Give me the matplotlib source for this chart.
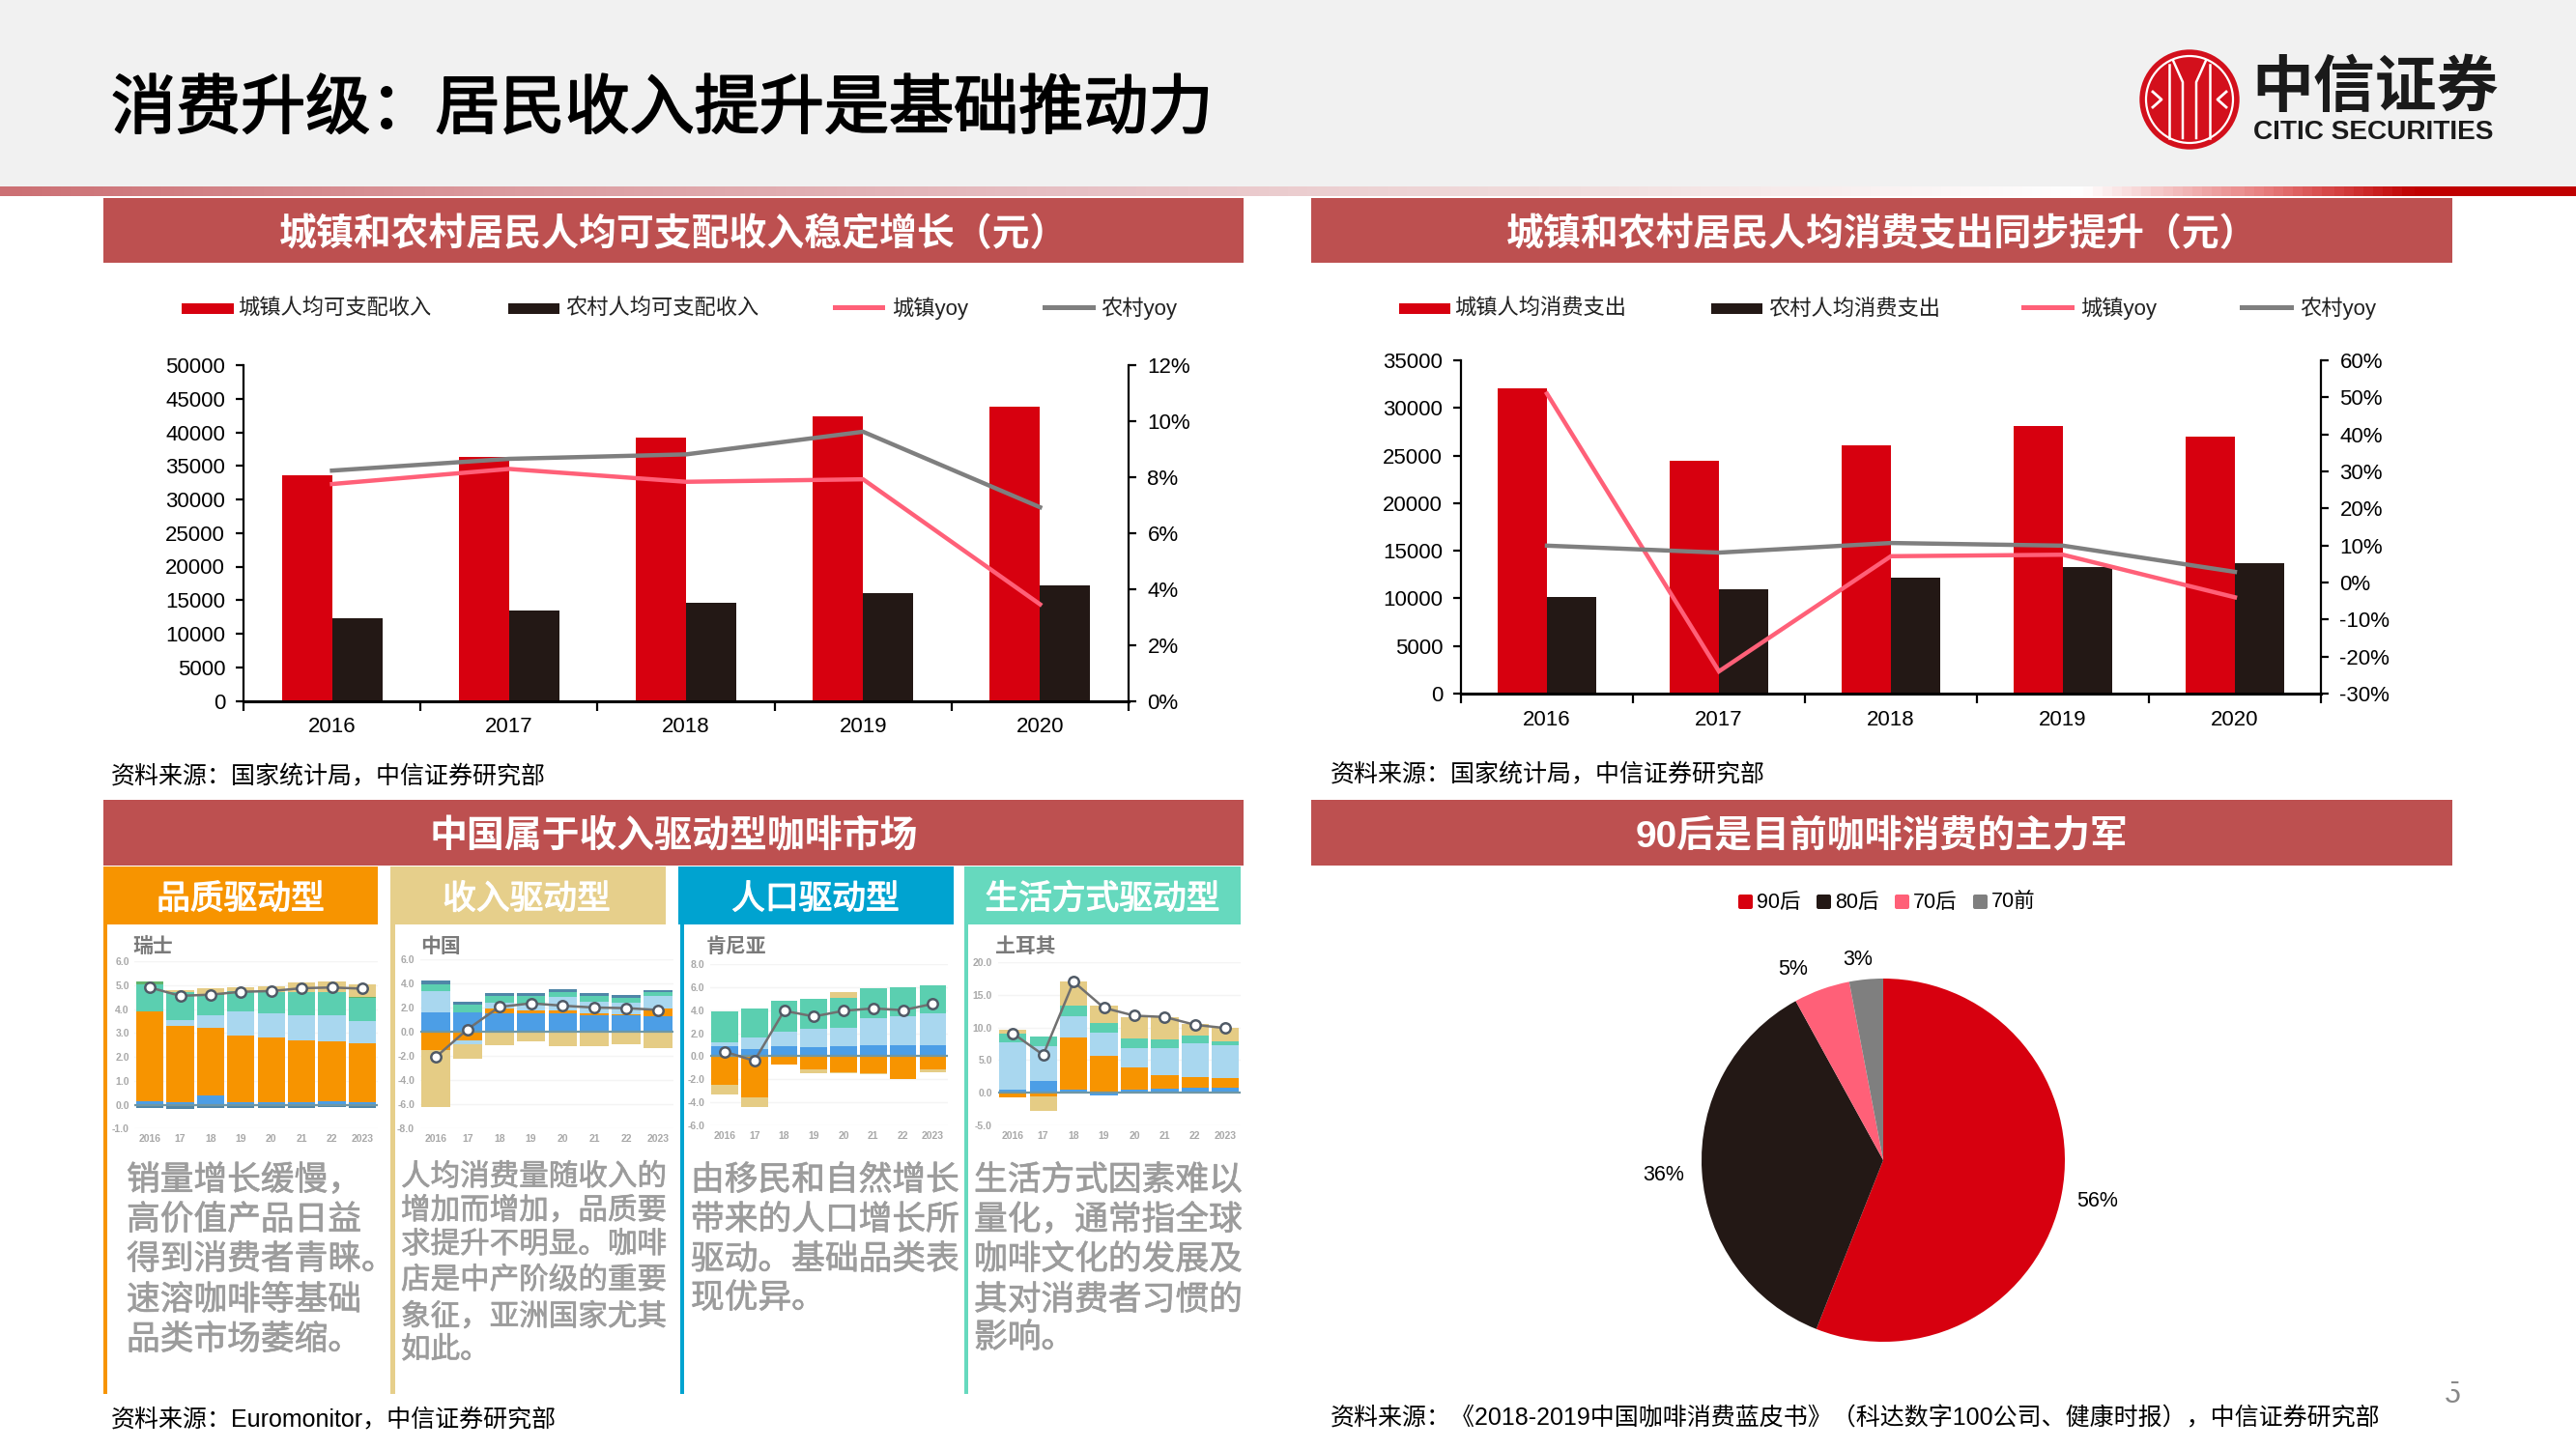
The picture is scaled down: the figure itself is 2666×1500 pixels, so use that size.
import numpy as np
import matplotlib
matplotlib.use('Agg')
import matplotlib.pyplot as plt
import matplotlib.patheffects as pe
from matplotlib.colors import LinearSegmentedColormap
from matplotlib.patches import Rectangle, Circle, FancyBboxPatch

plt.rcParams['font.family'] = ['Liberation Sans', 'Noto Sans CJK SC']

W, H = 2666, 1500
RED = '#D7000F'
BLACK = '#231815'
PINK = '#FF6078'
GRAY = '#7F7F7F'
SECTION = '#BD5050'

years = ['2016', '2017', '2018', '2019', '2020']

income_urban = [33616, 36396, 39251, 42359, 43834]
income_rural = [12363, 13432, 14617, 16021, 17131]
income_urban_yoy = [7.75, 8.29, 7.83, 7.92, 3.45]
income_rural_yoy = [8.23, 8.65, 8.81, 9.62, 6.92]

spend_urban = [32070, 24400, 26070, 28060, 26980]
spend_rural = [10110, 10945, 12130, 13315, 13660]
spend_urban_yoy = [51, -24, 7.1, 7.5, -4]
spend_rural_yoy = [9.95, 8.07, 10.67, 9.95, 2.87]

pie_labels = ['90后', '80后', '70后', '70前']
pie_values = [56, 36, 5, 3]
pie_colors = [RED, BLACK, PINK, GRAY]

mini_years = ['2016', '17', '18', '19', '20', '21', '22', '2023']
C_BLUE, C_ORANGE, C_LT, C_TEAL, C_SAND = '#4C9EE6', '#F79400', '#A9D7EF', '#5BCFB0', '#E5CC85'
C_GREEN, C_DARK = '#62B36A', '#4F86A8'

swiss_neg = [-0.15, -0.2, -0.12, -0.12, -0.12, -0.12, -0.1, -0.12]
swiss_blue = [0.15, 0.12, 0.4, 0.12, 0.12, 0.12, 0.15, 0.12]
swiss_orange = [3.75, 3.18, 2.8, 2.78, 2.68, 2.58, 2.5, 2.43]
swiss_lt = [0, 0.25, 0.55, 1.0, 1.0, 1.05, 1.1, 0.95]
swiss_teal = [1.15, 1.15, 0.85, 0.85, 0.9, 0.95, 0.95, 0.95]
swiss_green = [0.1, 0, 0.03, 0, 0, 0, 0, 0.05]
swiss_sand = [0, 0.1, 0.22, 0.15, 0.25, 0.4, 0.45, 0.55]
swiss_line = [4.9, 4.55, 4.6, 4.72, 4.75, 4.87, 4.9, 4.85]

china_blue = [1.6, 1.6, 1.55, 1.5, 1.55, 1.4, 1.33, 1.3]
china_orange = [-1.5, -0.7, 0.35, 0.25, 0.2, 0.15, 0.15, 0.65]
china_lt = [1.8, -0.3, 0.5, 0.6, 1.1, 0.9, 0.95, 1.0]
china_teal = [0.55, 0.65, 0.55, 0.6, 0.45, 0.5, 0.4, 0.3]
china_dark = [0.25, 0.25, 0.25, 0.25, 0.25, 0.25, 0.25, 0.2]
china_sand = [-4.7, -1.2, -1.1, -0.8, -1.2, -1.2, -1.0, -1.35]
china_line = [-2.1, 0.2, 2.05, 2.35, 2.15, 2.0, 1.95, 1.8]

kenya_blue = [0.85, 0.65, 0.85, 0.8, 0.9, 1.0, 1.0, 0.95]
kenya_lt = [0.4, 0.95, 1.25, 1.6, 1.55, 2.3, 2.5, 2.75]
kenya_teal = [2.65, 2.55, 2.7, 2.6, 2.65, 2.6, 2.5, 2.45]
kenya_orange = [-2.5, -3.55, -0.7, -1.15, -1.4, -1.5, -1.95, -1.15]
kenya_sand_pos = [0, 0, 0, 0, 0.5, 0, 0, 0]
kenya_sand_neg = [-0.8, -0.85, 0, -0.3, -0.1, -0.05, 0, -0.25]
kenya_line = [0.4, -0.4, 3.95, 3.45, 3.95, 4.15, 4.0, 4.55]

turkey_blue = [0.5, 1.8, 0.5, -0.4, 0.4, 0.6, 0.7, 0.7]
turkey_orange = [-0.7, -0.5, 8.0, 5.6, 3.5, 2.1, 1.7, 1.5]
turkey_lt = [7.2, 5.4, 3.2, 3.6, 2.9, 4.1, 5.2, 5.1]
turkey_teal = [1.4, 1.4, 1.6, 1.5, 1.5, 1.3, 1.2, 0.6]
turkey_sand = [0.5, -2.3, 3.7, 2.7, 3.2, 3.4, 1.8, 2.1]
turkey_line = [9.1, 5.8, 17, 13, 11.8, 11.6, 10.4, 9.9]

fig = plt.figure(figsize=(W / 100, H / 100), dpi=100, facecolor='white')

# full page axes in pixel coordinates, for the slide furniture
bg = fig.add_axes([0, 0, 1, 1])
bg.set_xlim(0, W)
bg.set_ylim(H, 0)
bg.axis('off')


def rect(x0, y0, x1, y1, color, z=1):
    bg.add_patch(Rectangle((x0, y0), x1 - x0, y1 - y0, color=color, lw=0, zorder=z))


def label(x, y, s, size, color='black', ha='left', weight='normal', stroke=0):
    # CJK text sits a little high with va=center, hence the nudge
    t = bg.text(x, y + size * 0.13, s, fontsize=size, color=color, ha=ha, va='center', weight=weight, zorder=5)
    if stroke:
        t.set_path_effects([pe.withStroke(linewidth=stroke, foreground=color)])


def ax_px(l, t, r, b):
    return fig.add_axes([l / W, 1 - b / H, (r - l) / W, (b - t) / H])


rect(0, 0, W, 193, '#F1F1F1')
cmap = LinearSegmentedColormap.from_list('strip', [
    (0, '#CC7074'), (0.2, '#DC9CA0'), (0.4, '#E6BEC2'), (0.6, '#F0DCDC'),
    (0.81, '#FFFFFF'), (0.88, '#E88080'), (0.94, '#C00000'), (1, '#C00000')])
bg.imshow(np.linspace(0, 1, 800)[None, :], cmap=cmap, extent=(0, W, 203, 193), aspect='auto', zorder=2)
bg.set_xlim(0, W)
bg.set_ylim(H, 0)

label(115, 109, '消费升级：居民收入提升是基础推动力', 48.3, 'black', stroke=1.4)

# logo
lx, ly = 2266, 103
bg.add_patch(Circle((lx, ly), 51.7, color='#D3101C', lw=0, zorder=2))
bg.add_patch(Circle((lx, ly), 45, fill=False, ec='white', lw=1.6, zorder=3))
for dx in [-21, 21]:
    bg.plot([lx + dx, lx + dx], [ly - 36, ly + 40], color='white', lw=1.8, zorder=3)
for dx in [-7, 7]:
    bg.plot([lx + dx, lx + dx, lx + dx * 2.4], [ly + 40, ly - 18, ly - 40], color='white', lw=1.8, zorder=3)
for sgn in [-1, 1]:
    bg.plot([lx + sgn * 38, lx + sgn * 29, lx + sgn * 38], [ly - 8, ly, ly + 8], color='white', lw=2, zorder=3)
label(2330, 87, '中信证券', 46, '#1A1A1A', weight='bold')
label(2332, 134, 'CITIC SECURITIES', 20.2, '#1A1A1A', weight='bold')

# section headers
for x0, x1, y0, y1, txt in [
    (107, 1287, 205, 272, '城镇和农村居民人均可支配收入稳定增长（元）'),
    (1357, 2538, 205, 272, '城镇和农村居民人均消费支出同步提升（元）'),
    (107, 1287, 828, 896, '中国属于收入驱动型咖啡市场'),
    (1357, 2538, 828, 896, '90后是目前咖啡消费的主力军'),
]:
    rect(x0, y0, x1, y1, SECTION)
    label((x0 + x1) / 2, (y0 + y1) / 2 + 1, txt, 28, 'white', ha='center', weight='bold')


def combo(box, left, right, y2, ymax, ystep, r_lim, r_ticks, legend, legend_x):
    ax = ax_px(*box)
    x = np.arange(len(years))
    ax.bar(x - 0.142, left, 0.284, color=RED, zorder=2)
    ax.bar(x + 0.142, right, 0.284, color=BLACK, zorder=2)
    ax.set_xlim(-0.5, 4.5)
    ax.set_ylim(0, ymax)
    ax.set_yticks(np.arange(0, ymax + 1, ystep))
    ax.set_xticks(np.arange(-0.5, 5))
    ax.set_xticklabels([])
    ax.set_xticks(x, years, minor=True)
    ax.tick_params(axis='x', which='minor', length=0, pad=12, labelsize=16)
    ax.tick_params(axis='x', which='major', length=7, width=1.6)
    ax.tick_params(axis='y', length=6, width=1.6, labelsize=16, pad=7.5)
    ax.spines['top'].set_visible(False)
    ax.spines['right'].set_visible(False)
    ax.spines['left'].set_linewidth(1.6)
    ax.spines['bottom'].set_linewidth(2.2)
    ax.patch.set_alpha(0)
    tw = ax.twinx()
    tw.plot(x, y2[0], color=PINK, lw=3.2, zorder=4, solid_joinstyle='miter')
    tw.plot(x, y2[1], color=GRAY, lw=3.2, zorder=4, solid_joinstyle='miter')
    tw.set_ylim(*r_lim)
    tw.set_yticks(r_ticks)
    tw.set_yticklabels(['%d%%' % t for t in r_ticks])
    tw.tick_params(axis='y', length=6, width=1.6, labelsize=16, pad=8)
    tw.spines['top'].set_visible(False)
    tw.spines['left'].set_visible(False)
    tw.spines['bottom'].set_visible(False)
    tw.spines['right'].set_linewidth(1.6)
    # legend row drawn by hand so the gaps follow the slide
    for i, (name, col) in enumerate(zip(legend, [RED, BLACK, PINK, GRAY])):
        x0, x1, tx = legend_x[i]
        if i < 2:
            rect(x0, 313.5, x1, 324.5, col)
            label(tx, 318.5, name, 16, '#222222')
        else:
            rect(x0, 316, x1, 321, col)
            label(tx, 317, name, 16, '#222222')


combo((252, 378, 1168, 725.5), income_urban, income_rural, (income_urban_yoy, income_rural_yoy),
      50000, 5000, (0, 12), list(range(0, 13, 2)),
      ['城镇人均可支配收入', '农村人均可支配收入', '城镇yoy', '农村yoy'],
      [(188, 242, 246), (526, 579, 585), (862, 916, 923), (1079, 1134, 1139)])
combo((1512, 373, 2402, 718), spend_urban, spend_rural, (spend_urban_yoy, spend_rural_yoy),
      35000, 5000, (-30, 60), list(range(-30, 61, 10)),
      ['城镇人均消费支出', '农村人均消费支出', '城镇yoy', '农村yoy'],
      [(1448, 1501, 1505), (1771, 1824, 1830), (2092, 2147, 2153), (2318, 2374, 2380)])

label(115, 802, '资料来源：国家统计局，中信证券研究部', 18, 'black')
label(1377, 800, '资料来源：国家统计局，中信证券研究部', 18, 'black')
label(115, 1467, '资料来源：Euromonitor，中信证券研究部', 18, 'black')
label(1377, 1466, '资料来源：《2018-2019中国咖啡消费蓝皮书》（科达数字100公司、健康时报），中信证券研究部', 18, 'black')


def mini(box, series, line, ylim, yticks, ylabels):
    ax = ax_px(*box)
    x = np.arange(len(mini_years))
    pos = np.zeros(len(x))
    neg = np.zeros(len(x))
    for vals, col in series:
        vals = np.array(vals, dtype=float)
        base = np.where(vals >= 0, pos, neg)
        ax.bar(x, vals, 0.9, bottom=base, color=col, lw=0, zorder=2)
        pos = pos + np.clip(vals, 0, None)
        neg = neg + np.clip(vals, None, 0)
    ax.axhline(0, color='#6F97A5', lw=1.6, zorder=3)
    ax.plot(x, line, color='#707070', lw=1.8, marker='o', ms=7.5, mfc='white', mec='#505A66', mew=1.8, zorder=4)
    ax.set_xlim(-0.5, 7.5)
    ax.set_ylim(*ylim)
    ax.set_yticks(yticks)
    ax.set_yticklabels(ylabels)
    ax.set_xticks(x, mini_years)
    ax.yaxis.grid(True, color='#F4F4F4', lw=1)
    ax.set_axisbelow(True)
    ax.tick_params(length=0, labelsize=7.5, labelcolor='#A8A8A8', pad=4)
    for lab in ax.get_xticklabels() + ax.get_yticklabels():
        lab.set_fontweight('bold')
    for s in ax.spines.values():
        s.set_visible(False)
    ax.patch.set_alpha(0)


mini((139.4, 995, 390.7, 1168.3),
     [(swiss_neg, C_DARK), (swiss_blue, C_BLUE), (swiss_orange, C_ORANGE), (swiss_lt, C_LT),
      (swiss_teal, C_TEAL), (swiss_green, C_GREEN), (swiss_sand, C_SAND)],
     swiss_line, (-1, 6), list(range(-1, 7)), ['%.1f' % v for v in range(-1, 7)])
mini((434.6, 993, 697.4, 1168),
     [(china_blue, C_BLUE), (china_orange, C_ORANGE), (china_lt, C_LT), (china_teal, C_TEAL),
      (china_dark, C_DARK), (china_sand, C_SAND)],
     china_line, (-8, 6), list(range(-8, 7, 2)), ['%.1f' % v for v in range(-8, 7, 2)])
mini((734.6, 998, 980.8, 1165),
     [(kenya_blue, C_BLUE), (kenya_lt, C_LT), (kenya_teal, C_TEAL), (kenya_sand_pos, C_SAND),
      (kenya_orange, C_ORANGE), (kenya_sand_neg, C_SAND)],
     kenya_line, (-6, 8), list(range(-6, 9, 2)), ['%.1f' % v for v in range(-6, 9, 2)])
mini((1032.5, 996, 1284, 1165),
     [(turkey_blue, C_BLUE), (turkey_orange, C_ORANGE), (turkey_lt, C_LT), (turkey_teal, C_TEAL),
      (turkey_sand, C_SAND)],
     turkey_line, (-5, 20), list(range(-5, 21, 5)), ['%.1f' % v for v in range(-5, 21, 5)])

# the four driver panels
panels = [
    (107, 391, 107, 111, '#F79400', '品质驱动型', 249, '瑞士', 137),
    (404, 689, 404, 409, '#E6CF8B', '收入驱动型', 545, '中国', 435),
    (702, 987, 704, 708, '#00A3D0', '人口驱动型', 844, '肯尼亚', 731),
    (998, 1284, 998, 1002, '#66D9BE', '生活方式驱动型', 1141, '土耳其', 1030),
]
for x0, x1, l0, l1, col, head, hx, name, nx in panels:
    rect(x0, 897, x1, 957, col)
    rect(l0, 957, l1, 1443, col)
    label(hx, 928, head, 25, 'white', ha='center', stroke=0.9)
    label(nx, 978, name, 15, '#7A7A7A', weight='bold')

para_col = '#9C9C9C'
for y, s in zip([1219, 1260, 1301, 1343, 1384],
                ['销量增长缓慢，', '高价值产品日益', '得到消费者青睐。', '速溶咖啡等基础', '品类市场萎缩。']):
    label(131, y, s, 25, para_col, stroke=0.5)
for y, s in zip([1216, 1251, 1286, 1323, 1361, 1395],
                ['人均消费量随收入的', '增加而增加，品质要', '求提升不明显。咖啡', '店是中产阶级的重要', '象征，亚洲国家尤其', '如此。']):
    label(415, y, s, 22, para_col, stroke=0.5)
for y, s in zip([1219, 1260, 1301, 1341],
                ['由移民和自然增长', '带来的人口增长所', '驱动。基础品类表', '现优异。']):
    label(715, y, s, 25, para_col, stroke=0.5)
for y, s in zip([1219, 1260, 1301, 1343, 1382],
                ['生活方式因素难以', '量化，通常指全球', '咖啡文化的发展及', '其对消费者习惯的', '影响。']):
    label(1008, y, s, 25, para_col, stroke=0.5)

# pie
r = 188
cx, cy = 1949, 1201
pax = ax_px(cx - r, cy - r, cx + r, cy + r)
pax.pie(pie_values, colors=pie_colors, startangle=90, counterclock=False, radius=1,
        wedgeprops={'lw': 0})
pax.set_xlim(-1, 1)
pax.set_ylim(-1, 1)
pie_text_pos = [(2171, 1241), (1722, 1214), (1856, 1001), (1923, 991)]
for v, (tx, ty) in zip(pie_values, pie_text_pos):
    label(tx, ty, '%d%%' % v, 15.5, 'black', ha='center')
for name, col, sx, tx in zip(pie_labels, pie_colors, [1799, 1880, 1961, 2042], [1818, 1899, 1980, 2061]):
    bg.add_patch(FancyBboxPatch((sx + 2, 928), 11, 11, boxstyle='round,pad=2', color=col, lw=0, zorder=3))
    label(tx, 932, name, 15.5, 'black')

# page number, half hidden by a white block on the slide
label(2530, 1441, '5', 22, '#888888')
rect(2524, 1425, 2537, 1444, 'white', z=6)

fig.savefig('out.png', dpi=100)
